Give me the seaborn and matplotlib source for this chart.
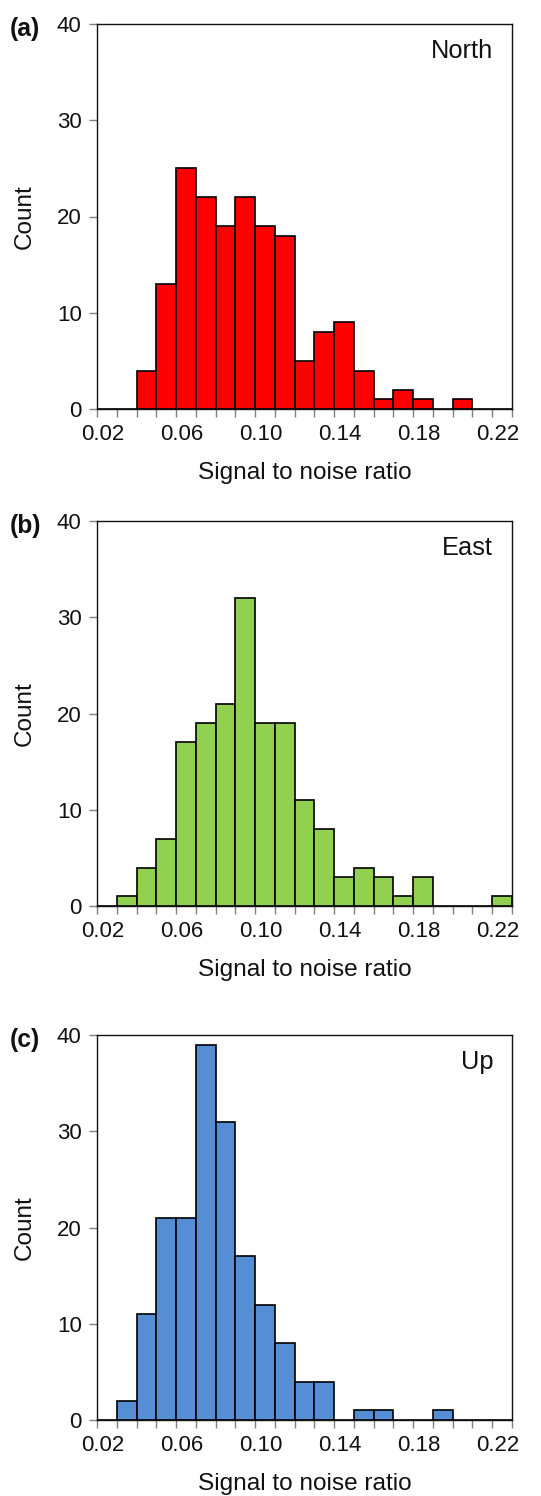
import numpy as np
import pandas as pd
import matplotlib
matplotlib.use("Agg")
import matplotlib.pyplot as plt
import matplotlib.transforms as mtransforms
import seaborn as sns

# bin centers (signal to noise ratio), width 0.01
centers = [0.02, 0.03, 0.04, 0.05, 0.06, 0.07, 0.08, 0.09, 0.10, 0.11, 0.12,
           0.13, 0.14, 0.15, 0.16, 0.17, 0.18, 0.19, 0.20, 0.21, 0.22]
north = [0, 0, 4, 13, 25, 22, 19, 22, 19, 18, 5, 8, 9, 4, 1, 2, 1, 0, 1, 0, 0]
east = [0, 1, 4, 7, 17, 19, 21, 32, 19, 19, 11, 8, 3, 4, 3, 1, 3, 0, 0, 0, 1]
up = [0, 2, 11, 21, 21, 39, 31, 17, 12, 8, 4, 4, 0, 1, 1, 0, 0, 1, 0, 0, 0]
xtick_labels = ["0.02", "0.06", "0.10", "0.14", "0.18", "0.22"]
xtick_pos = [0.02, 0.06, 0.10, 0.14, 0.18, 0.22]
yticks = [0, 10, 20, 30, 40]

panels = [("(a)", "North", north, "#FF0000"),
          ("(b)", "East", east, "#92D050"),
          ("(c)", "Up", up, "#558ED5")]

sns.set_style("white")
plt.rcParams['font.family'] = ['Liberation Sans', 'DejaVu Sans']

W, H = 541, 1496
fig = plt.figure(figsize=(W / 100, H / 100), dpi=100)

edges = [round(0.015 + 0.01 * k, 4) for k in range(22)]
tops = [24, 521, 1035]
axh = 385
left, right = 97, 512
shift = mtransforms.ScaledTranslation(-4 / 100, 0, fig.dpi_scale_trans)

for (lab, name, counts, color), top in zip(panels, tops):
    ax = fig.add_axes([left / W, (H - top - axh) / H, (right - left) / W, axh / H])
    df = pd.DataFrame({"snr": centers, "n": counts})
    sns.histplot(data=df, x="snr", weights="n", bins=edges, ax=ax,
                 color=color, alpha=1, edgecolor="black", linewidth=1.2)
    ax.set_xlim(0.015, 0.225)
    ax.set_ylim(0, 40)
    ax.set_xticks(xtick_pos)
    ax.set_xticklabels(xtick_labels)
    ax.set_xticks(edges, minor=True)
    ax.tick_params(axis="x", which="major", length=0, pad=11, labelsize=16,
                   labelcolor="#111111")
    ax.tick_params(axis="x", which="minor", length=6, width=1, color="#808080",
                   direction="out", bottom=True)
    for t in ax.get_xticklabels():
        t.set_transform(t.get_transform() + shift)
    ax.set_yticks(yticks)
    ax.tick_params(axis="y", which="major", length=6, width=1, color="#808080",
                   direction="out", left=True, labelsize=16, pad=5,
                   labelcolor="#111111")
    for s in ax.spines.values():
        s.set_color("#111111")
        s.set_linewidth(1.0)
    ax.set_xlabel("Signal to noise ratio", fontsize=17.6, labelpad=12,
                  color="#111111")
    ax.set_ylabel("Count", fontsize=17.5, labelpad=15, color="#111111")
    ax.text(0.955, 0.962, name, transform=ax.transAxes, ha="right", va="top",
            fontsize=18.3, color="#111111")
    fig.text(10 / W, 1 - (top - 7) / H, lab, ha="left", va="top",
             fontsize=17.7, fontweight="bold", color="#111111")

fig.savefig("out.png", dpi=100)
